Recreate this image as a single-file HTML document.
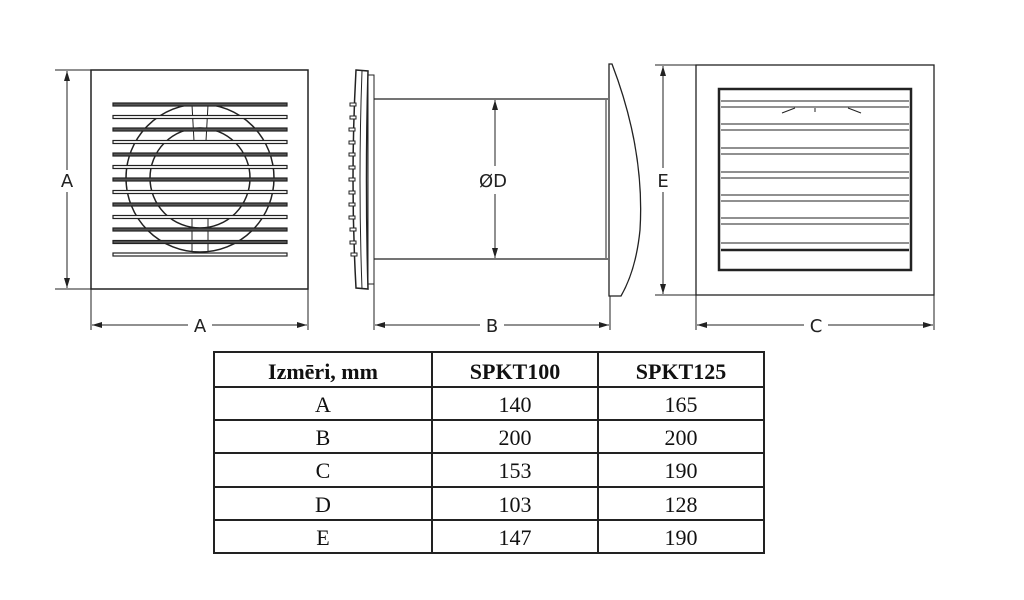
<!DOCTYPE html>
<html><head><meta charset="utf-8"><style>
html,body{margin:0;padding:0;background:#fff;width:1024px;height:600px;overflow:hidden}
svg{display:block}
</style></head><body>
<svg width="1024" height="600" viewBox="0 0 1024 600" xmlns="http://www.w3.org/2000/svg">
<defs>
<marker id="ar" viewBox="0 0 10 6" refX="10" refY="3" markerWidth="10" markerHeight="6" orient="auto" markerUnits="userSpaceOnUse"><path d="M0,0 L10,3 L0,6 z" fill="#222"/></marker>
</defs>
<g stroke="#222" fill="none" stroke-width="1">
<!-- View 1 -->
<rect x="91" y="70" width="217" height="219" stroke-width="1.5"/>
<line x1="55" y1="70" x2="91" y2="70"/><line x1="55" y1="289" x2="91" y2="289"/>
<line x1="67" y1="170" x2="67" y2="71" marker-end="url(#ar)"/>
<line x1="67" y1="192" x2="67" y2="288" marker-end="url(#ar)"/>
<line x1="91" y1="289" x2="91" y2="330"/><line x1="308" y1="289" x2="308" y2="330"/>
<line x1="188" y1="325" x2="92" y2="325" marker-end="url(#ar)"/>
<line x1="212" y1="325" x2="307" y2="325" marker-end="url(#ar)"/>
<circle cx="200" cy="178" r="74" stroke-width="1.5"/>
<circle cx="200" cy="178" r="50" stroke-width="1.5"/>
<line x1="192" y1="105" x2="194" y2="141"/><line x1="208" y1="105" x2="206" y2="141"/>
<line x1="192" y1="252" x2="192" y2="218"/><line x1="208" y1="252" x2="208" y2="218"/>
<g fill="#fff" stroke-width="1.2">
<rect x="113" y="103" width="174" height="3" fill="#555"/>
<rect x="113" y="115.5" width="174" height="3"/>
<rect x="113" y="128" width="174" height="3" fill="#555"/>
<rect x="113" y="140.5" width="174" height="3"/>
<rect x="113" y="153" width="174" height="3" fill="#555"/>
<rect x="113" y="165.5" width="174" height="3"/>
<rect x="113" y="178" width="174" height="3" fill="#555"/>
<rect x="113" y="190.5" width="174" height="3"/>
<rect x="113" y="203" width="174" height="3" fill="#555"/>
<rect x="113" y="215.5" width="174" height="3"/>
<rect x="113" y="228" width="174" height="3" fill="#555"/>
<rect x="113" y="240.5" width="174" height="3" fill="#555"/>
<rect x="113" y="253" width="174" height="3"/>
</g>
<!-- View 2 -->
<path d="M356,70 L368,71 Q365,180 368,289 L356,288 Q350,180 356,70 Z" stroke-width="1.5"/>
<path d="M362,71 Q358,180 362,289"/>
<rect x="368" y="75" width="6" height="209"/>
<g fill="#fff">
<rect x="350" y="103" width="6" height="3"/><rect x="350" y="116" width="6" height="3"/>
<rect x="349" y="128" width="6" height="3"/><rect x="349" y="141" width="6" height="3"/>
<rect x="349" y="153" width="6" height="3"/><rect x="349" y="166" width="6" height="3"/>
<rect x="349" y="178" width="6" height="3"/><rect x="349" y="191" width="6" height="3"/>
<rect x="349" y="203" width="6" height="3"/><rect x="349" y="216" width="6" height="3"/>
<rect x="350" y="228" width="6" height="3"/><rect x="350" y="241" width="6" height="3"/>
<rect x="351" y="253" width="6" height="3"/>
</g>
<line x1="374" y1="99" x2="608" y2="99" stroke-width="1.3"/>
<line x1="374" y1="259" x2="608" y2="259" stroke-width="1.3"/>
<line x1="606" y1="100" x2="606" y2="258"/>
<path d="M609,64 L612,64 Q645,150 640,230 Q636,270 621,296 L609,296 Z" stroke-width="1.3"/>
<line x1="495" y1="166" x2="495" y2="100" marker-end="url(#ar)"/>
<line x1="495" y1="194" x2="495" y2="258" marker-end="url(#ar)"/>
<line x1="374" y1="284" x2="374" y2="330"/><line x1="610" y1="296" x2="610" y2="330"/>
<line x1="480" y1="325" x2="375" y2="325" marker-end="url(#ar)"/>
<line x1="504" y1="325" x2="609" y2="325" marker-end="url(#ar)"/>
<!-- View 3 -->
<rect x="696" y="65" width="238" height="230" stroke-width="1.3"/>
<line x1="655" y1="65" x2="696" y2="65"/><line x1="655" y1="295" x2="696" y2="295"/>
<line x1="663" y1="168" x2="663" y2="66" marker-end="url(#ar)"/>
<line x1="663" y1="192" x2="663" y2="294" marker-end="url(#ar)"/>
<line x1="696" y1="295" x2="696" y2="330"/><line x1="934" y1="295" x2="934" y2="330"/>
<line x1="804" y1="325" x2="697" y2="325" marker-end="url(#ar)"/>
<line x1="828" y1="325" x2="933" y2="325" marker-end="url(#ar)"/>
<rect x="719" y="89" width="192" height="181" stroke-width="2.5"/>
<g stroke-width="1">
<line x1="721" y1="101" x2="909" y2="101"/><line x1="721" y1="107" x2="909" y2="107"/>
<line x1="721" y1="124" x2="909" y2="124"/><line x1="721" y1="130" x2="909" y2="130"/>
<line x1="721" y1="148" x2="909" y2="148"/><line x1="721" y1="154" x2="909" y2="154"/>
<line x1="721" y1="172" x2="909" y2="172"/><line x1="721" y1="178" x2="909" y2="178"/>
<line x1="721" y1="195" x2="909" y2="195"/><line x1="721" y1="201" x2="909" y2="201"/>
<line x1="721" y1="218" x2="909" y2="218"/><line x1="721" y1="224" x2="909" y2="224"/>
<line x1="721" y1="243" x2="909" y2="243"/>
<line x1="721" y1="250" x2="909" y2="250" stroke-width="2.5"/>
<path d="M782,113 L795,108 M848,108 L861,113 M815,108 L815,112"/>
</g>
</g>
<g font-family="'DejaVu Sans','Liberation Sans',sans-serif" font-size="18" fill="#222" text-anchor="middle">
<text x="67" y="187">A</text>
<text x="200" y="332">A</text>
<text x="493" y="187">ØD</text>
<text x="492" y="332">B</text>
<text x="663" y="187">E</text>
<text x="816" y="332">C</text>
</g>
<!-- Table -->
<g stroke="#222" stroke-width="2" fill="none">
<rect x="214" y="352" width="550" height="201"/>
<line x1="214" y1="387" x2="764" y2="387"/>
<line x1="214" y1="420" x2="764" y2="420"/>
<line x1="214" y1="453" x2="764" y2="453"/>
<line x1="214" y1="487" x2="764" y2="487"/>
<line x1="214" y1="520" x2="764" y2="520"/>
<line x1="432" y1="352" x2="432" y2="553"/>
<line x1="598" y1="352" x2="598" y2="553"/>
</g>
<g font-family="'Liberation Serif',serif" font-size="22" fill="#111" text-anchor="middle">
<g font-weight="bold"><text x="323" y="379">Izmēri, mm</text><text x="515" y="379">SPKT100</text><text x="681" y="379">SPKT125</text></g>
<text x="323" y="412">A</text><text x="515" y="412">140</text><text x="681" y="412">165</text>
<text x="323" y="445">B</text><text x="515" y="445">200</text><text x="681" y="445">200</text>
<text x="323" y="478">C</text><text x="515" y="478">153</text><text x="681" y="478">190</text>
<text x="323" y="512">D</text><text x="515" y="512">103</text><text x="681" y="512">128</text>
<text x="323" y="545">E</text><text x="515" y="545">147</text><text x="681" y="545">190</text>
</g>
</svg>
</body></html>
